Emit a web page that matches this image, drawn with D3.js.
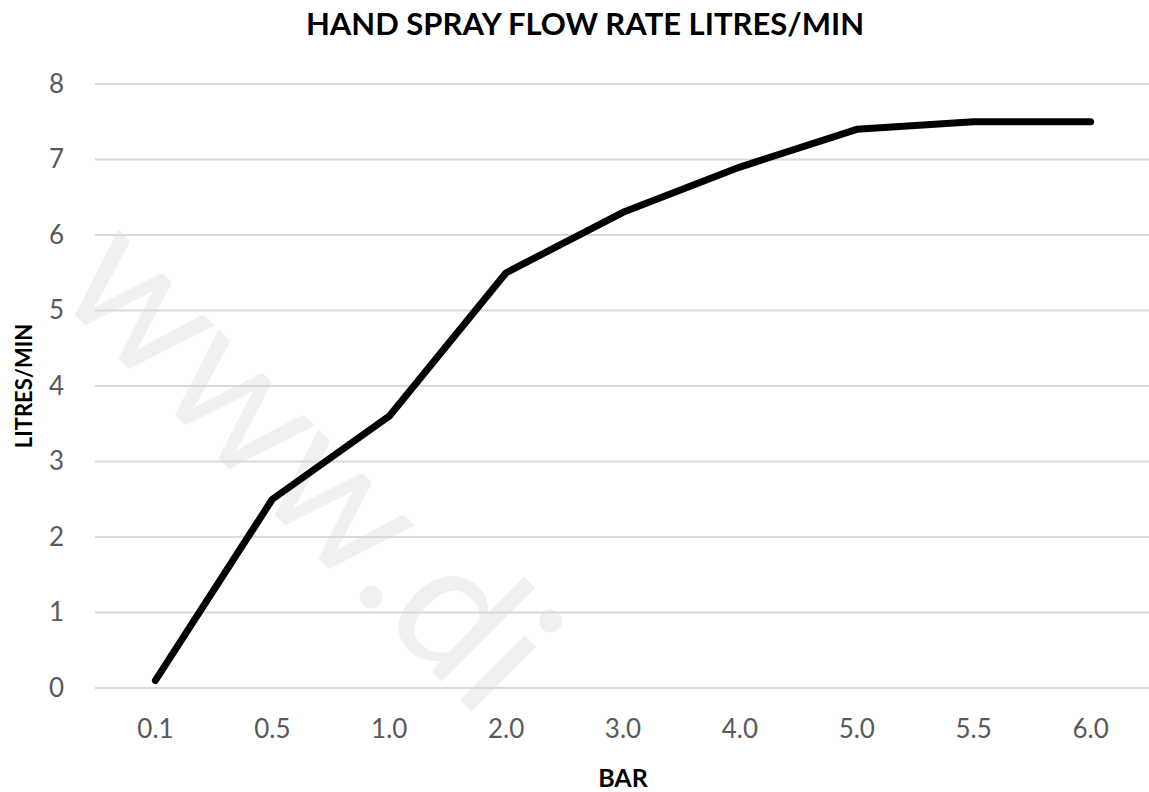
<!DOCTYPE html>
<html>
<head>
<meta charset="utf-8">
<script src="https://cdn.jsdelivr.net/npm/d3@7"></script>
<style>
  body { margin: 0; background: #fff; }
  svg { display: block; }
</style>
</head>
<body>
<svg id="chart"></svg>
<script>
// data
var pressures = ["0.1", "0.5", "1.0", "2.0", "3.0", "4.0", "5.0", "5.5", "6.0"];
var flowRates = [0.1, 2.5, 3.6, 5.5, 6.3, 6.9, 7.4, 7.5, 7.5];
var yTicks = [0, 1, 2, 3, 4, 5, 6, 7, 8];

var width = 1149, height = 792;
var font = "Lato, 'Open Sans', sans-serif";

var svg = d3.select("#chart")
    .attr("width", width)
    .attr("height", height);

// faint watermark
svg.append("text")
    .attr("transform", "translate(52,292) rotate(45)")
    .style("font-family", font)
    .style("font-size", "180px")
    .style("fill", "#f0f0f0")
    .text("www.di");

var x = d3.scaleBand()
    .domain(pressures)
    .range([97, 1149])
    .padding(0);

var y = d3.scaleLinear()
    .domain([0, 8])
    .range([688, 84]);

//gridlines
svg.append("g")
    .selectAll("line")
    .data(yTicks)
    .enter().append("line")
    .attr("x1", 95)
    .attr("x2", 1149)
    .attr("y1", function(d) { return y(d); })
    .attr("y2", function(d) { return y(d); })
    .style("stroke", "#d9d9d9")
    .style("stroke-width", 2);

// y axis labels
var yAxis = svg.append("g")
    .attr("transform", "translate(64,0)")
    .call(d3.axisLeft(y).tickValues(yTicks).tickSize(0).tickPadding(0));
yAxis.select(".domain").remove();
yAxis.selectAll("text")
    .style("font-family", font)
    .style("font-size", "26px")
    .style("fill", "#595959");

// x axis labels
var xAxis = svg.append("g")
    .attr("transform", "translate(0,720)")
    .call(d3.axisBottom(x).tickSize(0).tickPadding(0));
xAxis.select(".domain").remove();
xAxis.selectAll("text")
    .style("font-family", font)
    .style("font-size", "26px")
    .style("fill", "#595959");

// the curve
var line = d3.line()
    .x(function(d, i) { return x(pressures[i]) + x.bandwidth() / 2; })
    .y(function(d) { return y(d); });

svg.append("path")
    .datum(flowRates)
    .attr("d", line)
    .style("fill", "none")
    .style("stroke", "#000")
    .style("stroke-width", 7)
    .style("stroke-linecap", "round")
    .style("stroke-linejoin", "round");

// title and axis titles
svg.append("text")
    .attr("x", 585)
    .attr("y", 35)
    .attr("text-anchor", "middle")
    .style("font-family", font)
    .style("font-weight", "bold")
    .style("font-size", "31px")
    .style("fill", "#000")
    .text("HAND SPRAY FLOW RATE LITRES/MIN");

svg.append("text")
    .attr("transform", "translate(32,386) rotate(-90)")
    .attr("text-anchor", "middle")
    .style("font-family", font)
    .style("font-weight", "bold")
    .style("font-size", "22px")
    .style("fill", "#000")
    .text("LITRES/MIN");

svg.append("text")
    .attr("x", 623)
    .attr("y", 787)
    .attr("text-anchor", "middle")
    .style("font-family", font)
    .style("font-weight", "bold")
    .style("font-size", "25px")
    .style("fill", "#000")
    .text("BAR");
</script>
</body>
</html>
